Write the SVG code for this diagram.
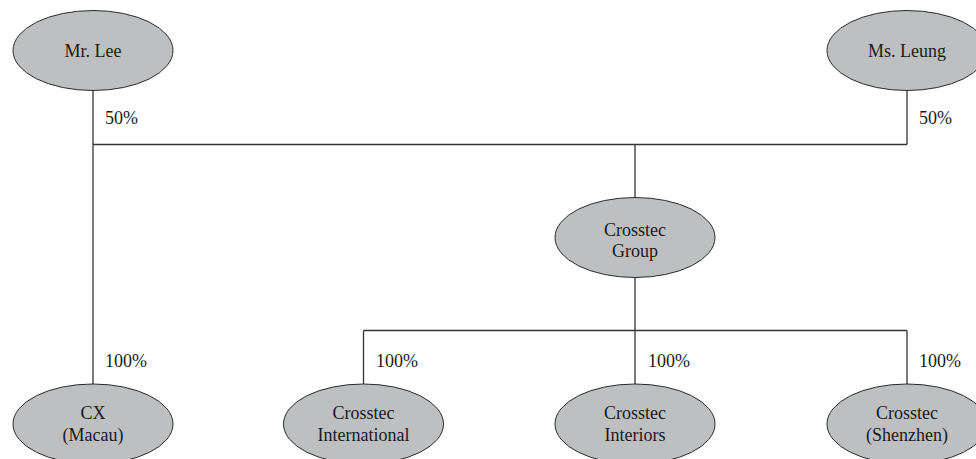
<svg xmlns="http://www.w3.org/2000/svg" width="976" height="459" viewBox="0 0 976 459">
<style>
.node ellipse{fill:#bebfc1;stroke:#2a2a2a;stroke-width:1}
text{font-family:"Liberation Serif","Times New Roman",serif;font-size:18px;fill:#1a1a1a}
.name{text-anchor:middle}
#connectors path{fill:none;stroke:#333;stroke-width:1.3}
</style>
<rect width="976" height="459" fill="#fff"/>
<g id="connectors">
<path d="M93 90 V384"/>
<path d="M907 90 V144.5"/>
<path d="M93 144.5 H907"/>
<path d="M635 144.5 V198"/>
<path d="M635 277 V330.5"/>
<path d="M363.5 330.5 H907"/>
<path d="M363.5 330.5 V384"/>
<path d="M635 330.5 V384"/>
<path d="M907 330.5 V384"/>
</g>
<g id="labels">
<text x="105" y="124">50%</text>
<text x="919" y="124">50%</text>
<text x="105" y="367">100%</text>
<text x="376" y="367">100%</text>
<text x="648" y="367">100%</text>
<text x="919" y="367">100%</text>
</g>
<g id="mr-lee" class="node">
<ellipse cx="93" cy="50.5" rx="80" ry="40"/>
<text class="name" x="93" y="57">Mr. Lee</text>
</g>
<g id="ms-leung" class="node">
<ellipse cx="907" cy="50.5" rx="80" ry="40"/>
<text class="name" x="907" y="57">Ms. Leung</text>
</g>
<g id="crosstec-group" class="node">
<ellipse cx="635" cy="237.5" rx="80" ry="40"/>
<text class="name" x="635" y="236">Crosstec</text>
<text class="name" x="635" y="257">Group</text>
</g>
<g id="cx-macau" class="node">
<ellipse cx="93" cy="424" rx="80" ry="40"/>
<text class="name" x="93" y="419">CX</text>
<text class="name" x="93" y="441">(Macau)</text>
</g>
<g id="crosstec-international" class="node">
<ellipse cx="363.5" cy="424" rx="80" ry="40"/>
<text class="name" x="363.5" y="419">Crosstec</text>
<text class="name" x="363.5" y="441">International</text>
</g>
<g id="crosstec-interiors" class="node">
<ellipse cx="635" cy="424" rx="80" ry="40"/>
<text class="name" x="635" y="419">Crosstec</text>
<text class="name" x="635" y="441">Interiors</text>
</g>
<g id="crosstec-shenzhen" class="node">
<ellipse cx="907" cy="424" rx="80" ry="40"/>
<text class="name" x="907" y="419">Crosstec</text>
<text class="name" x="907" y="441">(Shenzhen)</text>
</g>
</svg>
